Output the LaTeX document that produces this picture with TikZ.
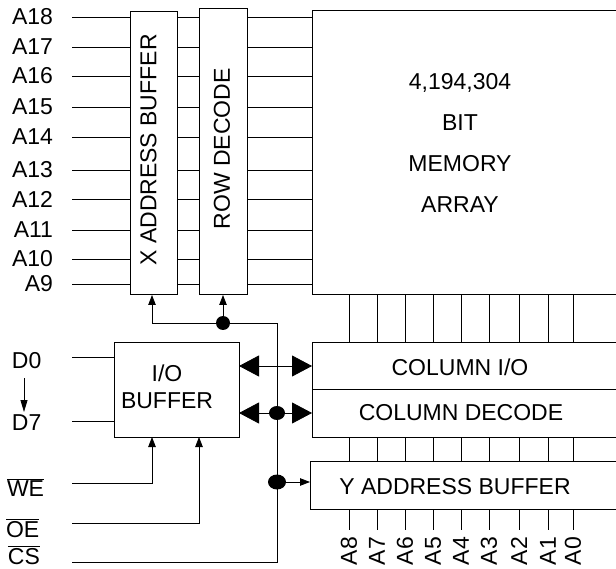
\documentclass[tikz,border=0pt]{standalone}
\usepackage{fontspec}
\setmainfont{Liberation Sans}
\usetikzlibrary{arrows.meta,shapes.geometric}
\begin{document}
\begin{tikzpicture}[x=1pt,y=-1pt,
  box/.style={draw,line width=1pt,rectangle,inner sep=0pt,outer sep=0pt},
  wire/.style={line width=0.8pt},
  lbl/.style={font=\fontsize{23}{27}\selectfont,inner sep=0pt,outer sep=0pt},
  dotmark/.style={ellipse,fill,draw=none,inner sep=0pt},
  sm/.style={-{Triangle[length=10pt,width=7.5pt]}},
  bigtip/.style={{Triangle[length=20pt,width=21pt]}-{Triangle[length=20pt,width=21pt]}}
]
\useasboundingbox (0,0) rectangle (616,569);
\clip (0,0) rectangle (616,569);

% blocks
\node[box,minimum width=47pt,minimum height=283pt] (xbuf) at (153.5,153.5) {};
\node[box,minimum width=48pt,minimum height=286pt] (rowdec) at (223,152) {};
\node[box,minimum width=388pt,minimum height=284pt] (mem) at (506,153) {};
\node[box,minimum width=388pt,minimum height=46pt] (colio) at (506,366) {};
\node[box,minimum width=388pt,minimum height=48pt] (coldec) at (506,413) {};
\node[box,minimum width=390pt,minimum height=48pt] (ybuf) at (505,485) {};
\node[box,minimum width=125pt,minimum height=94pt] (iobuf) at (176.5,390) {};

% block texts
\node[lbl,rotate=90] (xtxt) at (148.5,150) {X ADDRESS BUFFER};
\node[lbl,rotate=90] (rtxt) at (222,149) {ROW DECODE};
\node[lbl,align=center,font=\fontsize{23}{41}\selectfont] (mtxt) at (460,143) {4,194,304\\BIT\\MEMORY\\ARRAY};
\node[lbl] (ciotxt) at (460,367) {COLUMN I/O};
\node[lbl] (cdtxt) at (461,413) {COLUMN DECODE};
\node[lbl] (ybtxt) at (455,487) {Y ADDRESS BUFFER};
\node[lbl,align=center] (iotxt) at (167,387) {I/O\\BUFFER};

% row address lines
\foreach \n/\y in {18/17,17/47,16/76,15/107,14/137,13/170,12/199,11/230,10/259,9/284}{
  \node[lbl,anchor=east] (a\n) at (53,\y) {A\n};
  \coordinate (ain\n) at (72,\y);
  \draw[wire] (ain\n) -- (ain\n -| xbuf.west);
  \draw[wire] (ain\n -| xbuf.east) -- (ain\n -| rowdec.west);
  \draw[wire] (ain\n -| rowdec.east) -- (ain\n -| mem.west);
}

% column lines and labels
\foreach \cx/\lab [count=\i] in {349/8,377/7,405/6,433/5,461/4,489/3,519/2,548/1,573/0}{
  \coordinate (c\i) at (\cx,0);
  \coordinate (e\i) at (\cx,530);
  \draw[wire] (mem.south -| c\i) -- (colio.north -| c\i);
  \draw[wire] (coldec.south -| c\i) -- (ybuf.north -| c\i);
  \draw[wire] (ybuf.south -| c\i) -- (e\i);
  \node[lbl,rotate=90,anchor=east] (ya\i) at (\cx,537) {A\lab};
}

% data labels
\node[lbl,anchor=base west] (d0) at (12,368) {D0};
\node[lbl,anchor=base west] (d7) at (12,430) {D7};
\coordinate (d0in) at (72,357);
\coordinate (d7in) at (72,421);
\draw[wire] (d0in) -- (d0in -| iobuf.west);
\draw[wire] (d7in) -- (d7in -| iobuf.west);
\coordinate (darrs) at (24,378);
\coordinate (darre) at (24,412);
\draw[line width=0.8pt,-{Triangle[length=12pt,width=7pt]}] (darrs) -- (darre);

% control labels
\node[lbl,anchor=base west] (we) at (7,496) {$\overline{\mbox{WE}}$};
\node[lbl,anchor=base west] (oe) at (6,537) {$\overline{\mbox{OE}}$};
\node[lbl,anchor=base west] (cs) at (8,564) {$\overline{\mbox{CS}}$};
\coordinate (wein) at (72,483);
\coordinate (oein) at (72,523);
\coordinate (csin) at (72,562);
\coordinate (bj) at (277,323);
\coordinate (xin) at (152,323);
\coordinate (j1) at (223,323);
\coordinate (j3) at (277,482);

\draw[wire,sm] (wein) -| ([xshift=-24.5pt]iobuf.south);
\draw[wire,sm] (oein) -| ([xshift=22.5pt]iobuf.south);
\draw[wire,sm] (csin) -| (bj) -- (xin) -- (xin |- xbuf.south);
\draw[wire,sm] (j1) -- (j1 |- rowdec.south);
\draw[wire,sm] (j3) -- (j3 -| ybuf.west);

% bidirectional data paths
\draw[wire,bigtip] (iobuf.east |- colio.west) -- (colio.west);
\draw[wire,bigtip] (iobuf.east |- coldec.west) -- (coldec.west);

% junction dots
\node[dotmark,minimum width=14pt,minimum height=14pt] (dot1) at (j1) {};
\node[dotmark,minimum width=16pt,minimum height=14pt] (dot2) at (bj |- coldec.west) {};
\node[dotmark,minimum width=18pt,minimum height=15pt] (dot3) at (j3) {};
\end{tikzpicture}
\end{document}
